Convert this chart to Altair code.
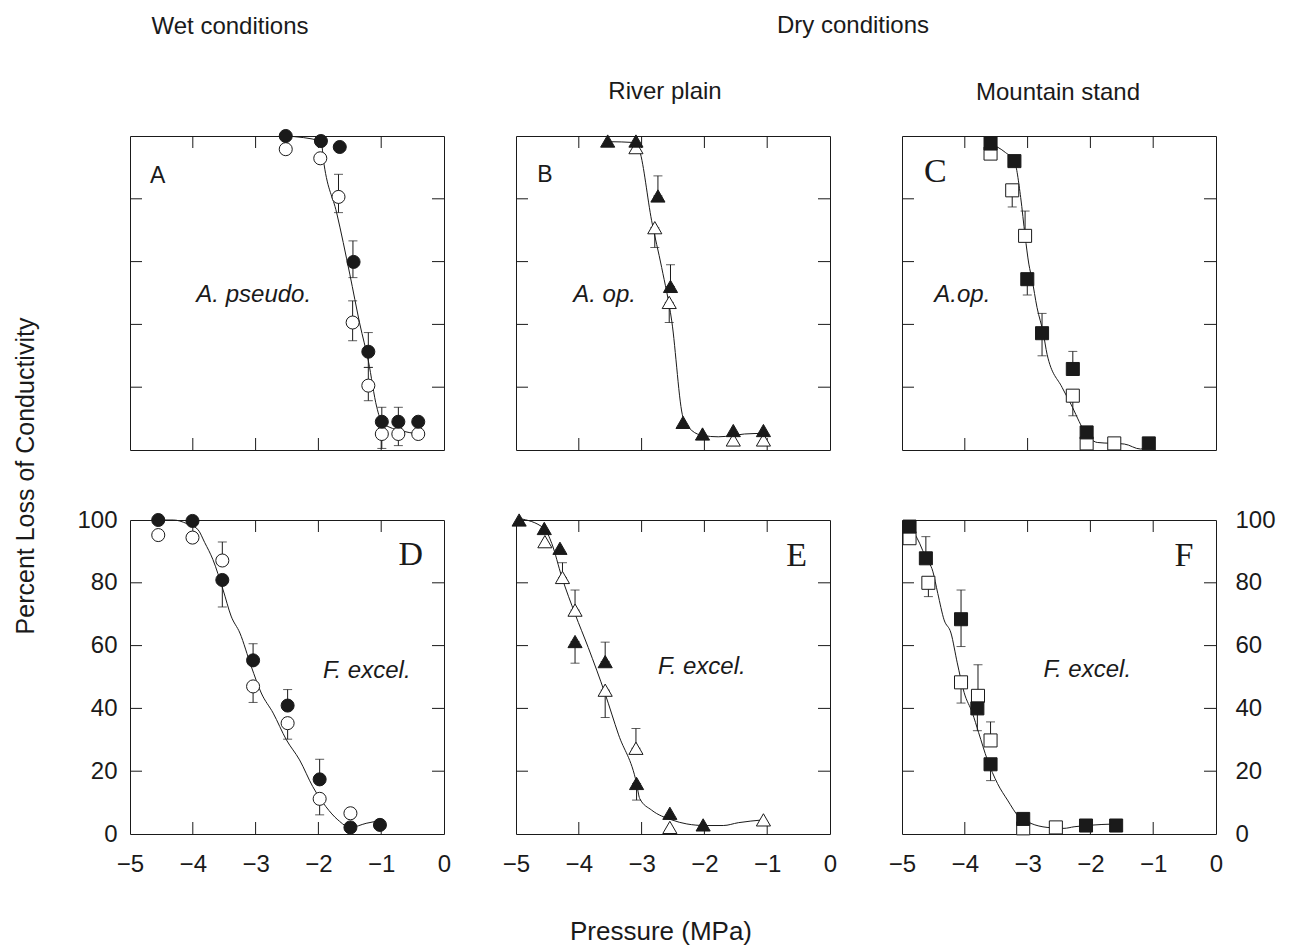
import altair as alt
import pandas as pd

# ---------------- data ----------------
XT = [-4, -3, -2, -1]
YT = [20, 40, 60, 80]
X_LABELS = [-5, -4, -3, -2, -1, 0]
Y_LABELS = [0, 20, 40, 60, 80, 100]

# Panel A  (Wet, A. pseudo.)
A_fill_x = [-2.52, -1.96, -1.66, -1.44, -1.205, -0.99, -0.727, -0.41]
A_fill_y = [100, 98.4, 96.5, 59.9, 31.3, 9.0, 9.0, 9.0]
A_open_x = [-2.52, -1.97, -1.68, -1.455, -1.205, -0.99, -0.727, -0.41]
A_open_y = [95.8, 92.9, 80.6, 40.6, 20.5, 5.1, 5.1, 5.1]
A_err_x = [-1.68, -1.45, -1.455, -1.205, -1.205, -0.99, -0.727]
A_err_lo = [75.6, 54.9, 34.8, 26.3, 15.7, 0.5, 1.4]
A_err_hi = [87.8, 66.6, 47.5, 37.4, 26.3, 13.6, 13.6]
A_fit_x = [-2.52, -1.96, -1.91, -1.71, -1.50, -1.34, -1.205, -1.07, -0.99, -0.86, -0.70, -0.41]
A_fit_y = [100, 98.4, 91.0, 75.6, 56.0, 40.1, 28.4, 13.6, 8.8, 7.2, 6.2, 5.1]

# Panel B  (River plain, A. op.)
B_fill_x = [-3.54, -3.09, -2.74, -2.54, -2.34, -2.03, -1.54, -1.06]
B_fill_y = [98.4, 98.4, 80.9, 52.1, 8.8, 5.1, 6.2, 6.2]
B_open_x = [-3.09, -2.79, -2.56, -1.54, -1.06]
B_open_y = [96.3, 70.8, 47.0, 3.2, 3.2]
B_err_x = [-2.74, -2.79, -2.54, -2.56]
B_err_lo = [80.9, 64.5, 52.1, 40.6]
B_err_hi = [87.3, 70.8, 59.0, 47.0]
B_fit_x = [-3.54, -3.09, -3.03, -2.84, -2.68, -2.52, -2.34, -2.20, -2.02, -1.78, -1.54, -1.36, -1.06]
B_fit_y = [98.2, 97.9, 95.2, 73.0, 58.1, 41.1, 10.4, 6.2, 4.6, 4.2, 4.6, 5.1, 5.3]

# Panel C  (Mountain stand, A.op.)
C_fill_x = [-3.59, -3.21, -3.005, -2.77, -2.28, -2.06, -1.07]
C_fill_y = [97.6, 92.0, 54.4, 37.2, 25.8, 5.6, 2.1]
C_open_x = [-3.59, -3.245, -3.04, -2.28, -2.06, -1.62]
C_open_y = [94.4, 82.7, 68.2, 17.3, 2.1, 2.1]
C_err_x = [-3.245, -3.04, -3.005, -2.77, -2.28, -2.28]
C_err_lo = [77.4, 68.2, 49.4, 30.0, 25.8, 10.9]
C_err_hi = [82.7, 76.1, 54.4, 43.5, 31.4, 17.3]
C_fit_x = [-3.59, -3.35, -3.21, -3.11, -3.04, -2.98, -2.93, -2.85, -2.75, -2.69, -2.45, -2.31, -2.10, -1.89, -1.46, -1.20, -1.07]
C_fit_y = [97.6, 94.7, 92.0, 80.4, 68.2, 59.2, 54.4, 45.4, 37.2, 30.5, 19.9, 14.6, 6.2, 2.4, 1.9, 0.3, 1.4]

# Panel D  (Wet, F. excel.)
D_fill_x = [-4.55, -4.005, -3.53, -3.04, -2.49, -1.98, -1.49, -1.02]
D_fill_y = [100, 99.7, 80.9, 55.3, 40.9, 17.4, 2.1, 2.9]
D_open_x = [-4.55, -4.005, -3.53, -3.04, -2.49, -1.98, -1.49]
D_open_y = [95.2, 94.4, 87.1, 47.0, 35.3, 11.2, 6.6]
D_err_x = [-3.53, -3.53, -3.04, -3.04, -2.49, -2.49, -1.98, -1.98]
D_err_lo = [72.3, 87.1, 55.3, 41.9, 40.9, 30.2, 17.4, 6.1]
D_err_hi = [80.9, 93.0, 60.6, 47.0, 46.0, 35.3, 23.8, 11.2]
D_fit_x = [-4.55, -4.31, -4.10, -3.92, -3.81, -3.68, -3.52, -3.39, -3.25, -3.07, -2.91, -2.72, -2.51, -2.30, -2.09, -1.88, -1.69, -1.49, -1.24, -1.02]
D_fit_y = [100, 100, 98.9, 97.0, 92.8, 87.4, 77.9, 69.4, 64.0, 53.4, 44.9, 38.5, 30.0, 23.6, 15.1, 8.7, 4.5, 2.1, 3.4, 4.3]

# Panel E  (River plain, F. excel.)
E_fill_x = [-4.95, -4.55, -4.30, -4.06, -3.58, -3.08, -2.55, -2.02]
E_fill_y = [100, 97.3, 91.0, 61.3, 54.9, 16.1, 6.6, 2.9]
E_open_x = [-4.54, -4.26, -4.06, -3.58, -3.09, -2.55, -1.06]
E_open_y = [93.1, 81.7, 71.3, 45.8, 27.3, 2.1, 4.5]
E_err_x = [-4.06, -3.58, -4.26, -4.06, -3.58, -3.09, -3.08]
E_err_lo = [54.4, 54.9, 81.7, 71.3, 37.1, 27.3, 10.8]
E_err_hi = [61.3, 61.1, 86.4, 77.7, 45.8, 33.6, 16.1]
E_fit_x = [-4.95, -4.55, -4.43, -4.27, -4.06, -3.85, -3.58, -3.37, -3.08, -3.03, -2.84, -2.52, -2.28, -1.99, -1.70, -1.46, -1.06]
E_fit_y = [100.5, 97.3, 92.5, 81.8, 70.1, 59.4, 44.6, 31.8, 16.1, 11.3, 7.6, 4.5, 3.2, 2.7, 2.7, 3.6, 4.5]

# Panel F  (Mountain stand, F. excel.)
F_fill_x = [-4.88, -4.62, -4.06, -3.80, -3.59, -3.07, -2.07, -1.59]
F_fill_y = [97.9, 87.8, 68.4, 40.0, 22.2, 4.8, 2.7, 2.7]
F_open_x = [-4.88, -4.58, -4.06, -3.79, -3.59, -3.07, -2.55]
F_open_y = [94.2, 80.0, 48.3, 44.0, 29.8, 1.8, 2.1]
F_err_x = [-4.62, -4.06, -3.80, -3.59, -4.58, -4.06, -3.79, -3.59]
F_err_lo = [87.8, 59.7, 32.9, 17.0, 75.6, 41.7, 44.0, 29.8]
F_err_hi = [94.7, 77.7, 40.0, 22.2, 80.0, 48.3, 53.9, 35.7]
F_fit_x = [-4.88, -4.72, -4.62, -4.51, -4.43, -4.33, -4.22, -4.12, -4.01, -3.88, -3.78, -3.64, -3.48, -3.32, -3.14, -2.95, -2.69, -2.42, -2.26, -2.07, -1.59]
F_fit_y = [98.4, 92.6, 87.9, 83.7, 76.6, 68.2, 64.0, 54.5, 45.0, 38.6, 32.3, 23.6, 16.1, 10.8, 5.5, 3.4, 2.1, 1.8, 2.3, 2.7, 3.2]

LETTERS = ["A", "B", "C", "D", "E", "F"]
LETTER_X = [-4.56, -4.54, -4.47, -0.53, -0.53, -0.51]
LETTER_Y = [87.3, 87.6, 88.5, 88.9, 88.5, 88.5]
SPECIES = ["A. pseudo.", "A. op.", "A.op.", "F. excel.", "F. excel.", "F. excel."]
SPECIES_X = [-3.03, -3.59, -4.04, -1.23, -2.04, -2.05]
SPECIES_Y = [49.4, 49.4, 49.4, 51.9, 53.2, 52.2]

# ---------------- styling ----------------
W, H = 314, 314
TICK = 12
INK = "#1a1a1a"
SANS = "Liberation Sans"
SERIF = "Liberation Serif"
XS = alt.Scale(domain=[-5, 0], nice=False, zero=False)
YS = alt.Scale(domain=[0, 100], nice=False, zero=False)


def make_axis(orient, pad):
    return alt.Axis(orient=orient, values=X_LABELS if orient == "bottom" else Y_LABELS,
                    ticks=False, tickSize=0, domain=False, grid=False, title=None,
                    labelFont=SANS, labelFontSize=24, labelColor=INK,
                    labelPadding=pad, labelFlush=False, labelOverlap=False)


def panel(i, fit_x, fit_y, fill_x, fill_y, open_x, open_y, err_x, err_lo, err_hi,
          shape, size, xaxis, yaxis, extra):
    X = lambda f: alt.X(f"{f}:Q", scale=XS, axis=xaxis)
    Y = lambda f: alt.Y(f"{f}:Q", scale=YS, axis=yaxis)

    xt = alt.Chart(pd.DataFrame({"t": XT}))
    yt = alt.Chart(pd.DataFrame({"t": YT}))
    ticks = [
        xt.mark_rule(color=INK, strokeWidth=1).encode(x=X("t"), y=alt.value(H), y2=alt.value(H - TICK)),
        xt.mark_rule(color=INK, strokeWidth=1).encode(x=X("t"), y=alt.value(0), y2=alt.value(TICK)),
        yt.mark_rule(color=INK, strokeWidth=1).encode(y=Y("t"), x=alt.value(0), x2=alt.value(TICK)),
        yt.mark_rule(color=INK, strokeWidth=1).encode(y=Y("t"), x=alt.value(W), x2=alt.value(W - TICK)),
    ]
    ax_x = alt.Chart(pd.DataFrame({"t": X_LABELS})).mark_point(opacity=0).encode(x=X("t"))
    ax_y = alt.Chart(pd.DataFrame({"t": Y_LABELS})).mark_point(opacity=0).encode(y=Y("t"))

    fit = alt.Chart(pd.DataFrame({"x": fit_x, "y": fit_y})).mark_line(
        color=INK, strokeWidth=1, interpolate="monotone").encode(x=X("x"), y=Y("y"), order="x:Q")

    err_df = pd.DataFrame({"x": err_x, "lo": err_lo, "hi": err_hi})
    eb = alt.Chart(err_df)
    err = [
        eb.mark_rule(color=INK, strokeWidth=1).encode(x=X("x"), y=Y("lo"), y2="hi:Q"),
        eb.mark_tick(color=INK, orient="horizontal", size=9, thickness=1).encode(x=X("x"), y=Y("lo")),
        eb.mark_tick(color=INK, orient="horizontal", size=9, thickness=1).encode(x=X("x"), y=Y("hi")),
    ]

    opn = alt.Chart(pd.DataFrame({"x": open_x, "y": open_y})).mark_point(
        shape=shape, size=size, filled=True, fill="white", stroke=INK, strokeWidth=1, opacity=1
    ).encode(x=X("x"), y=Y("y"))
    fil = alt.Chart(pd.DataFrame({"x": fill_x, "y": fill_y})).mark_point(
        shape=shape, size=size, filled=True, fill=INK, stroke=INK, strokeWidth=1, opacity=1
    ).encode(x=X("x"), y=Y("y"))

    serif = i >= 2
    letter = alt.Chart(pd.DataFrame({"x": [LETTER_X[i]], "y": [LETTER_Y[i]], "t": [LETTERS[i]]})).mark_text(
        font=SERIF if serif else SANS, fontSize=34 if serif else 23, color=INK,
        align="center", baseline="middle"
    ).encode(x=X("x"), y=Y("y"), text="t:N")
    species = alt.Chart(pd.DataFrame({"x": [SPECIES_X[i]], "y": [SPECIES_Y[i]], "t": [SPECIES[i]]})).mark_text(
        font=SANS, fontSize=24, fontStyle="italic", color=INK, align="center", baseline="middle"
    ).encode(x=X("x"), y=Y("y"), text="t:N")

    layers = ticks + [ax_x, ax_y, fit] + err + [opn, fil, letter, species] + extra
    return alt.layer(*layers).properties(width=W, height=H)


def label(text, px, py, size=24, angle=0):
    return alt.Chart(pd.DataFrame({"t": [text]})).mark_text(
        font=SANS, fontSize=size, color=INK, align="center", baseline="middle", angle=angle
    ).encode(text="t:N", x=alt.value(px), y=alt.value(py))


pA = panel(0, A_fit_x, A_fit_y, A_fill_x, A_fill_y, A_open_x, A_open_y, A_err_x, A_err_lo, A_err_hi,
           "circle", 170, None, None, [label("Wet conditions", 100, -109)])
pB = panel(1, B_fit_x, B_fit_y, B_fill_x, B_fill_y, B_open_x, B_open_y, B_err_x, B_err_lo, B_err_hi,
           "triangle-up", 200, None, None,
           [label("Dry conditions", 337, -110), label("River plain", 149, -44)])
pC = panel(2, C_fit_x, C_fit_y, C_fill_x, C_fill_y, C_open_x, C_open_y, C_err_x, C_err_lo, C_err_hi,
           "square", 170, None, None, [label("Mountain stand", 156, -43)])
pD = panel(3, D_fit_x, D_fit_y, D_fill_x, D_fill_y, D_open_x, D_open_y, D_err_x, D_err_lo, D_err_hi,
           "circle", 170, make_axis("bottom", 18), make_axis("left", 13),
           [label("Percent Loss of Conductivity", -104, -44, size=25, angle=270)])
pE = panel(4, E_fit_x, E_fit_y, E_fill_x, E_fill_y, E_open_x, E_open_y, E_err_x, E_err_lo, E_err_hi,
           "triangle-up", 200, make_axis("bottom", 18), None,
           [label("Pressure (MPa)", 145, 412, size=26)])
pF = panel(5, F_fit_x, F_fit_y, F_fill_x, F_fill_y, F_open_x, F_open_y, F_err_x, F_err_lo, F_err_hi,
           "square", 170, make_axis("bottom", 18), make_axis("right", 19), [])

chart = alt.concat(pA, pB, pC, pD, pE, pF, columns=3,
                   spacing={"row": 70, "column": 72}, bounds="flush").properties(
    padding={"left": 5, "top": 5, "right": 5, "bottom": 5}
).configure_view(stroke=INK, strokeWidth=1)

chart.save("out.html", embed_options={"renderer": "svg", "actions": False})
